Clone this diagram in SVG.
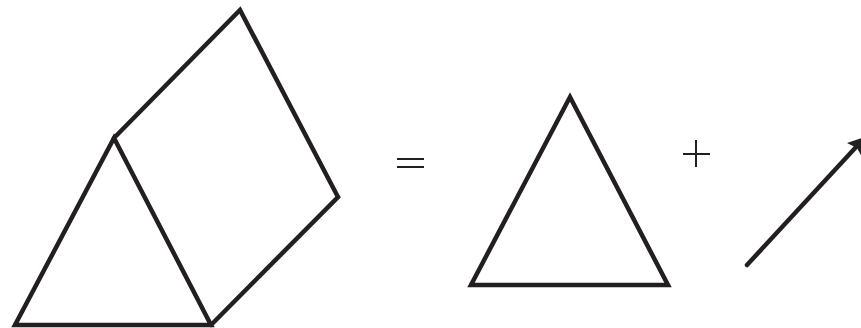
<svg xmlns="http://www.w3.org/2000/svg" width="861" height="328" viewBox="0 0 861 328">
<style>
.s{fill:none;stroke:#231f20;stroke-width:4.5;stroke-linejoin:miter;stroke-linecap:round}
.t{fill:none;stroke:#231f20;stroke-width:2}
</style>
<rect width="861" height="328" fill="#fff"/>
<g id="prism">
<polygon class="s" points="114,138 15,325 211,325"/>
<polyline class="s" points="114,138 240,10 338,197 211,325"/>
</g>
<g id="equals">
<line class="t" x1="397" y1="159" x2="424" y2="159"/>
<line class="t" x1="397" y1="167" x2="424" y2="167"/>
</g>
<g id="triangle">
<polygon class="s" points="570,97 471,285 668,285"/>
</g>
<g id="plus">
<line class="t" x1="683" y1="154" x2="710" y2="154" stroke-width="1.6"/>
<line class="t" x1="696" y1="140" x2="696" y2="167" stroke-width="1.6"/>
</g>
<g id="vector">
<line class="s" x1="747" y1="265" x2="857" y2="146"/>
<polygon points="847,143 868,136 862,157 857,148" fill="#231f20"/>
</g>
</svg>
